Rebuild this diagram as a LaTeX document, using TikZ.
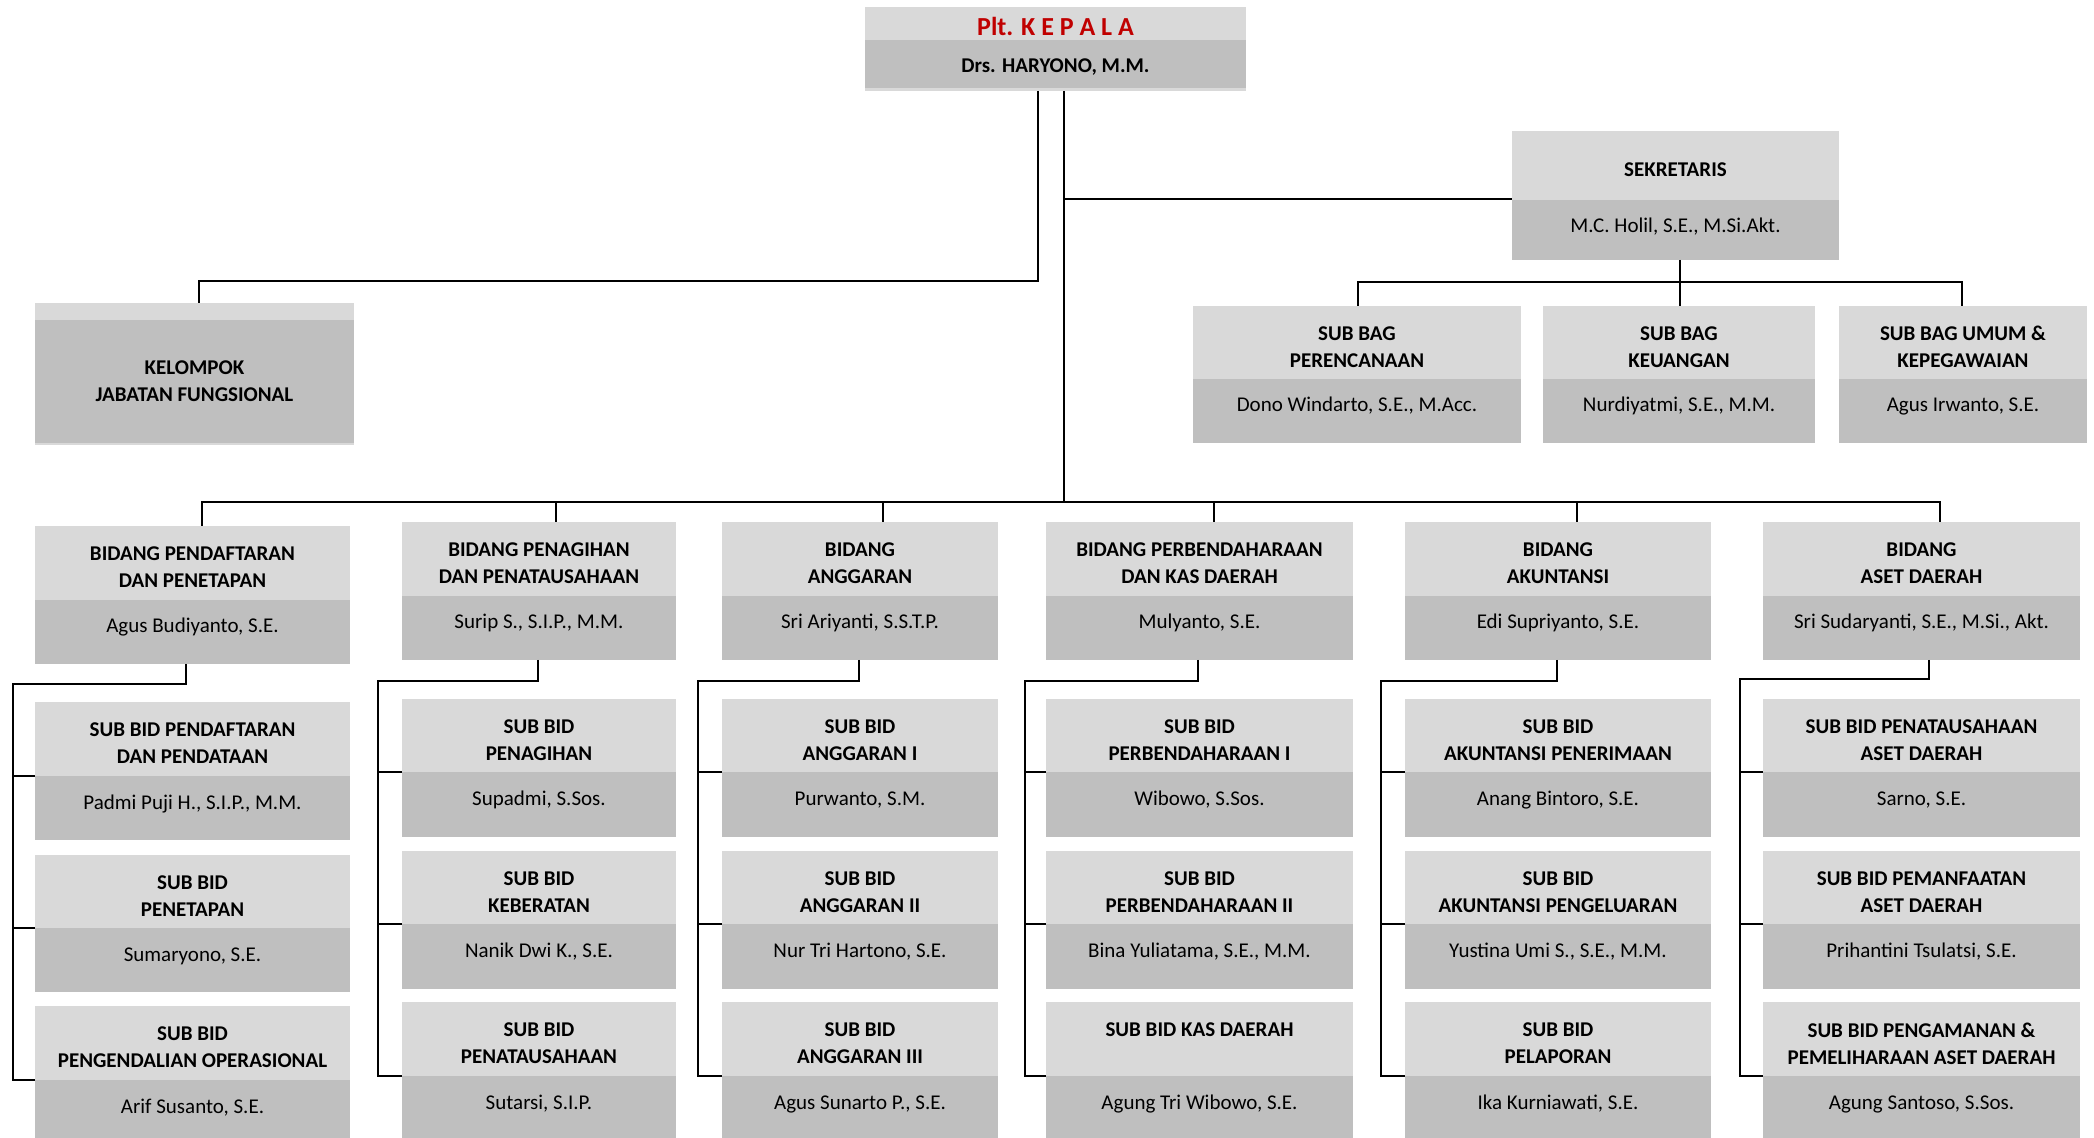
\documentclass[tikz,border=0pt]{standalone}
\usepackage{fontspec}
\setmainfont{Carlito}
\definecolor{lightc}{HTML}{D9D9D9}
\definecolor{darkc}{HTML}{BFBFBF}
\definecolor{redc}{HTML}{C00000}
\tikzset{
  boxbase/.style={inner sep=0pt, outer sep=0pt, draw=none, rectangle},
  titletxt/.style={align=center, inner sep=0pt, font=\bfseries\fontsize{10.5}{13.5}\selectfont},
  nametxt/.style={inner sep=0pt, font=\fontsize{10.5}{13.5}\selectfont},
  conn/.style={draw=black, line width=1pt}
}
\newcommand\obox[8]{%
  \pgfmathsetmacro\bw{(#3-#2)/2}%
  \pgfmathsetmacro\bh{(#6-#4)/2}%
  \pgfmathsetmacro\dh{(#6-#5)/2}%
  \node[boxbase,fill=lightc,minimum width=\bw pt,minimum height=\bh pt,anchor=north west] (#1) at (#2,#4) {};
  \node[boxbase,fill=darkc,minimum width=\bw pt,minimum height=\dh pt,anchor=south west] (#1d) at (#2,#6) {};
  \node[titletxt] (#1t) at ({(#2+#3)/2},{(#4+#5)/2+4.5}) {#7};
  \node[nametxt,anchor=base] (#1n) at ({(#2+#3)/2},{#5+33}) {#8};
}
\newcommand\colconn[4]{%
  \draw[conn] (b#1.south -| #2,0) -- (#2,#3) -- (#4,#3) -- (s#1cd.north west -| #4,0) -- (s#1cd.north west);
  \draw[conn] (s#1ad.north west -| #4,0) -- (s#1ad.north west);
  \draw[conn] (s#1bd.north west -| #4,0) -- (s#1bd.north west);
}
\begin{document}
\begin{tikzpicture}[x=0.5pt,y=-0.5pt]
\useasboundingbox (0,0) rectangle (2094,1138);
\fill[white] (0,0) rectangle (2094,1138);

% KEPALA
\node[boxbase,fill=lightc,minimum width=190.5pt,minimum height=42pt,anchor=north west] (kep) at (865,7) {};
\node[boxbase,fill=darkc,minimum width=190.5pt,minimum height=24pt,anchor=north west] (kepd) at (865,40) {};
\node[inner sep=0pt,anchor=base,text=redc,font=\bfseries\fontsize{13}{15}\selectfont] (kept) at (1055.5,36) {Plt. K E P A L A};
\node[inner sep=0pt,anchor=base,font=\bfseries\fontsize{10.5}{13.5}\selectfont] (kepn) at (1055.5,73) {Drs. HARYONO, M.M.};

% KELOMPOK
\node[boxbase,fill=lightc,minimum width=159.5pt,minimum height=71pt,anchor=north west] (kel) at (35,303) {};
\node[boxbase,fill=darkc,minimum width=159.5pt,minimum height=61.5pt,anchor=north west] (keld) at (35,320) {};
\node[titletxt] (kelt) at (194.5,381) {KELOMPOK\\JABATAN FUNGSIONAL};

% SEKRETARIS
\obox{sek}{1512}{1839}{131}{200}{260}{SEKRETARIS}{M.C. Holil, S.E., M.Si.Akt.}
\obox{sba}{1193}{1521}{306}{379}{443}{SUB BAG\\PERENCANAAN}{Dono Windarto, S.E., M.Acc.}
\obox{sbb}{1543}{1815}{306}{379}{443}{SUB BAG\\KEUANGAN}{Nurdiyatmi, S.E., M.M.}
\obox{sbc}{1839}{2087}{306}{379}{443}{SUB BAG UMUM \&\\KEPEGAWAIAN}{Agus Irwanto, S.E.}

% COLUMN 1
\obox{b1}{35}{350}{526}{600}{664}{BIDANG PENDAFTARAN\\DAN PENETAPAN}{Agus Budiyanto, S.E.}
\obox{s1a}{35}{350}{702}{776}{840}{SUB BID PENDAFTARAN\\DAN PENDATAAN}{Padmi Puji H., S.I.P., M.M.}
\obox{s1b}{35}{350}{855}{928}{992}{SUB BID\\PENETAPAN}{Sumaryono, S.E.}
\obox{s1c}{35}{350}{1006}{1080}{1138}{SUB BID\\PENGENDALIAN OPERASIONAL}{Arif Susanto, S.E.}

% COLUMN 2
\obox{b2}{402}{676}{522}{596}{660}{BIDANG PENAGIHAN\\DAN PENATAUSAHAAN}{Surip S., S.I.P., M.M.}
\obox{s2a}{402}{676}{699}{772}{837}{SUB BID\\PENAGIHAN}{Supadmi, S.Sos.}
\obox{s2b}{402}{676}{851}{924}{989}{SUB BID\\KEBERATAN}{Nanik Dwi K., S.E.}
\obox{s2c}{402}{676}{1002}{1076}{1138}{SUB BID\\PENATAUSAHAAN}{Sutarsi, S.I.P.}

% COLUMN 3
\obox{b3}{722}{998}{522}{596}{660}{BIDANG\\ANGGARAN}{Sri Ariyanti, S.S.T.P.}
\obox{s3a}{722}{998}{699}{772}{837}{SUB BID\\ANGGARAN I}{Purwanto, S.M.}
\obox{s3b}{722}{998}{851}{924}{989}{SUB BID\\ANGGARAN II}{Nur Tri Hartono, S.E.}
\obox{s3c}{722}{998}{1002}{1076}{1138}{SUB BID\\ANGGARAN III}{Agus Sunarto P., S.E.}

% COLUMN 4
\obox{b4}{1046}{1353}{522}{596}{660}{BIDANG PERBENDAHARAAN\\DAN KAS DAERAH}{Mulyanto, S.E.}
\obox{s4a}{1046}{1353}{699}{772}{837}{SUB BID\\PERBENDAHARAAN I}{Wibowo, S.Sos.}
\obox{s4b}{1046}{1353}{851}{924}{989}{SUB BID\\PERBENDAHARAAN II}{Bina Yuliatama, S.E., M.M.}
\obox{s4c}{1046}{1353}{1002}{1076}{1138}{SUB BID KAS DAERAH\\\vphantom{A}}{Agung Tri Wibowo, S.E.}

% COLUMN 5
\obox{b5}{1405}{1711}{522}{596}{660}{BIDANG\\AKUNTANSI}{Edi Supriyanto, S.E.}
\obox{s5a}{1405}{1711}{699}{772}{837}{SUB BID\\AKUNTANSI PENERIMAAN}{Anang Bintoro, S.E.}
\obox{s5b}{1405}{1711}{851}{924}{989}{SUB BID\\AKUNTANSI PENGELUARAN}{Yustina Umi S., S.E., M.M.}
\obox{s5c}{1405}{1711}{1002}{1076}{1138}{SUB BID\\PELAPORAN}{Ika Kurniawati, S.E.}

% COLUMN 6
\obox{b6}{1763}{2080}{522}{596}{660}{BIDANG\\ASET DAERAH}{Sri Sudaryanti, S.E., M.Si., Akt.}
\obox{s6a}{1763}{2080}{699}{772}{837}{SUB BID PENATAUSAHAAN\\ASET DAERAH}{Sarno, S.E.}
\obox{s6b}{1763}{2080}{851}{924}{989}{SUB BID PEMANFAATAN\\ASET DAERAH}{Prihantini Tsulatsi, S.E.}
\obox{s6c}{1763}{2080}{1002}{1076}{1138}{SUB BID PENGAMANAN \&\\PEMELIHARAAN ASET DAERAH}{Agung Santoso, S.Sos.}

% CONNECTORS
\coordinate (bus) at (1064,502);
\draw[conn] (kep.south -| 1064,0) -- (bus);
\draw[conn] (kep.south -| 1038,0) -- (1038,281) -- (199,281) -- (kel.north -| 199,0);
\draw[conn] (1064,199) -- (sek.west |- 0,199);
\draw[conn] (sek.south -| 1680,0) -- (sbb.north -| 1680,0);
\draw[conn] (sba.north -| 1358,0) -- (1358,282) -- (1962,282) -- (sbc.north -| 1962,0);

\draw[conn] (b1.north -| 202,0) -- (202,502) -- (1940,502) -- (b6.north -| 1940,0);
\draw[conn] (556,502) -- (b2.north -| 556,0);
\draw[conn] (883,502) -- (b3.north -| 883,0);
\draw[conn] (1214,502) -- (b4.north -| 1214,0);
\draw[conn] (1577,502) -- (b5.north -| 1577,0);

\colconn{1}{186}{684}{13}
\colconn{2}{538}{681}{378}
\colconn{3}{859}{681}{698}
\colconn{4}{1198}{681}{1025}
\colconn{5}{1557}{681}{1381}
\colconn{6}{1929}{679}{1740}
\end{tikzpicture}
\end{document}
